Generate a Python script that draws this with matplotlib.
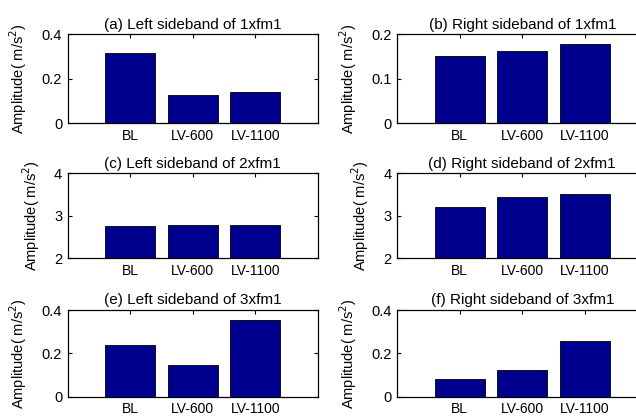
import matplotlib
matplotlib.use("Agg")
import matplotlib.pyplot as plt

plt.rcParams["font.family"] = ["Liberation Sans", "DejaVu Sans"]

# ---- data ----
categories = ["BL", "LV-600", "LV-1100"]
titles = ["(a) Left sideband of 1xfm1", "(b) Right sideband of 1xfm1",
          "(c) Left sideband of 2xfm1", "(d) Right sideband of 2xfm1",
          "(e) Left sideband of 3xfm1", "(f) Right sideband of 3xfm1"]
amp_a = [0.316, 0.129, 0.141]
amp_b = [0.151, 0.163, 0.179]
amp_c = [2.76, 2.776, 2.776]
amp_d = [3.216, 3.45, 3.51]
amp_e = [0.238, 0.146, 0.354]
amp_f = [0.080, 0.123, 0.257]
ylims = [(0, 0.4), (0, 0.2), (2, 4), (2, 4), (0, 0.4), (0, 0.4)]
yticks = [[0, 0.2, 0.4], [0, 0.1, 0.2], [2, 3, 4], [2, 3, 4],
          [0, 0.2, 0.4], [0, 0.2, 0.4]]
yticklabels = [["0", "0.2", "0.4"], ["0", "0.1", "0.2"], ["2", "3", "4"],
               ["2", "3", "4"], ["0", "0.2", "0.4"], ["0", "0.2", "0.4"]]
series = [amp_a, amp_b, amp_c, amp_d, amp_e, amp_f]

W, H = 636, 417
# axes boxes in pixels: left edges per column, (top, bottom) per row
lefts = [67.7, 397.3]
rows = [(34.3, 123.3), (173.3, 258.3), (310.0, 396.7)]
AX_W = 250          # right column runs past the figure edge, as in the original

fig = plt.figure(figsize=(W / 100, H / 100), dpi=100)
for i, vals in enumerate(series):
    r, c = divmod(i, 2)
    top, bot = rows[r]
    ax = fig.add_axes([lefts[c] / W, (H - bot) / H, AX_W / W, (bot - top) / H])
    x = range(1, len(categories) + 1)
    base = ylims[i][0]
    ax.bar(x, [v - base for v in vals], bottom=base, width=0.8,
           color="#00008F", edgecolor="black", linewidth=0.6, zorder=2)
    ax.set_xlim(0, 4)
    ax.set_ylim(*ylims[i])
    ax.set_xticks(list(x))
    ax.set_xticklabels(categories, fontsize=10)
    ax.set_yticks(yticks[i])
    ax.set_yticklabels(yticklabels[i], fontsize=10.5)
    ax.tick_params(direction="in", length=3, width=0.8, top=True, right=True,
                   pad=4)
    for s in ax.spines.values():
        s.set_linewidth(0.9)
        s.set_zorder(3)
    ax.set_title(titles[i], fontsize=11, pad=4)
    ax.set_ylabel("Amplitude( m/s$^2$)", fontsize=10.5, labelpad=9)

fig.savefig("out.png", dpi=100)
